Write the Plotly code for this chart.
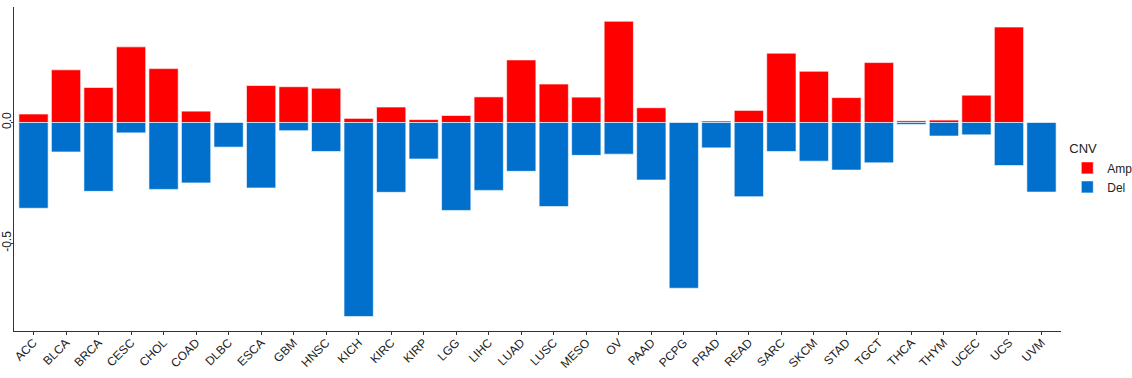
import plotly.graph_objects as go

categories = ["ACC","BLCA","BRCA","CESC","CHOL","COAD","DLBC","ESCA","GBM","HNSC","KICH","KIRC",
              "KIRP","LGG","LIHC","LUAD","LUSC","MESO","OV","PAAD","PCPG","PRAD","READ","SARC",
              "SKCM","STAD","TGCT","THCA","THYM","UCEC","UCS","UVM"]
amp = [0.035,0.218,0.145,0.313,0.223,0.047,0.0,0.153,0.148,0.142,0.017,0.064,
       0.012,0.029,0.106,0.259,0.159,0.105,0.419,0.061,0.0,0.006,0.050,0.287,
       0.212,0.103,0.248,0.007,0.010,0.113,0.395,0.0]
dele = [-0.355,-0.122,-0.285,-0.043,-0.277,-0.250,-0.102,-0.271,-0.034,-0.120,-0.803,-0.289,
        -0.151,-0.364,-0.281,-0.202,-0.348,-0.136,-0.131,-0.238,-0.686,-0.105,-0.307,-0.120,
        -0.160,-0.197,-0.167,-0.008,-0.056,-0.051,-0.178,-0.288]

fig = go.Figure()
fig.add_trace(go.Bar(x=categories, y=amp, name="Amp", marker=dict(color="#FF0000", line=dict(color="#ffffff", width=0.6))))
fig.add_trace(go.Bar(x=categories, y=dele, name="Del", marker=dict(color="#0070CC", line=dict(color="#ffffff", width=0.6))))

fig.update_layout(
    width=1132, height=378,
    barmode="relative", bargap=0.1,
    paper_bgcolor="white", plot_bgcolor="white",
    margin=dict(l=14, r=71, t=7, b=47, autoexpand=False),
    font=dict(family="Liberation Sans, Arial, sans-serif", size=12, color="#222222"),
    legend=dict(title=dict(text="CNV", font=dict(size=13, color="#222222")),
                x=1.006, xanchor="left", y=0.5, yanchor="middle", bgcolor="rgba(0,0,0,0)",
                font=dict(size=12, color="#222222"), tracegroupgap=0, itemwidth=30),
    xaxis=dict(range=[-0.6, 31.6], tickangle=-45, showline=True, linecolor="#333333", linewidth=1,
               ticks="outside", ticklen=3, tickcolor="#333333", showgrid=False, zeroline=False,
               automargin=False, ticklabelstandoff=-4, tickfont=dict(size=12, color="#222222")),
    yaxis=dict(range=[-0.863, 0.478], tickvals=[0.0, -0.5], ticktext=["0.0", "-0.5"], tickangle=-90,
               showline=True, linecolor="#333333", linewidth=1, ticks="outside", ticklen=2,
               tickcolor="#333333", showgrid=False, zeroline=False, automargin=False,
               ticklabelstandoff=-5, tickfont=dict(size=12, color="#222222")),
)
fig.write_html("out.html", config={"displayModeBar": False},
               post_script="document.body.style.margin='0';")
